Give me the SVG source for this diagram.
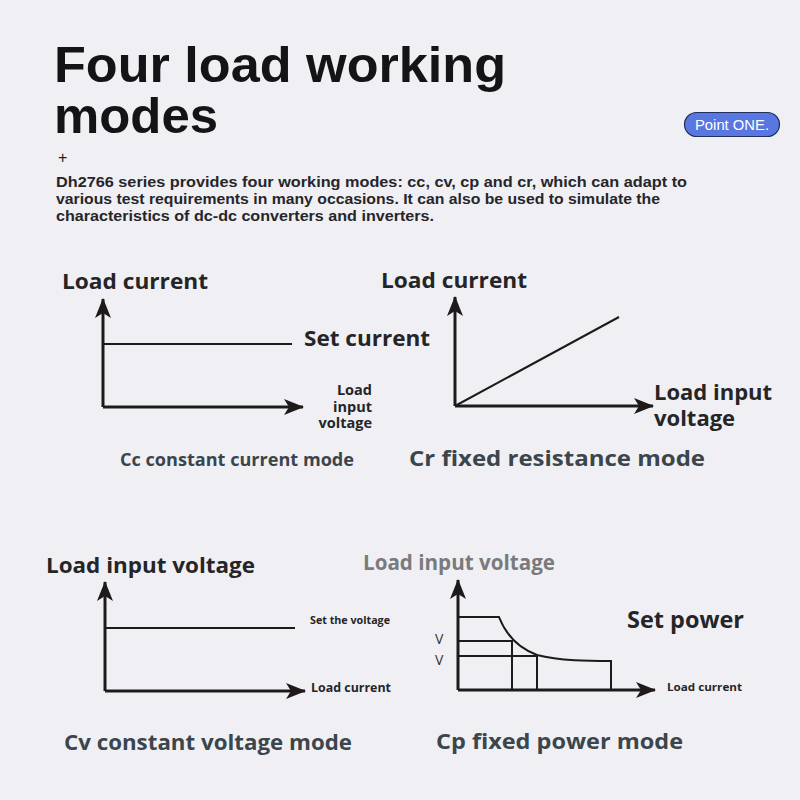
<svg xmlns="http://www.w3.org/2000/svg" width="800" height="800" viewBox="0 0 800 800">
<defs>
<style>
.ttl{font-family:"Liberation Sans",Arial,sans-serif;font-weight:bold;font-size:50px;fill:#141416}
.par{font-family:"Liberation Sans",Arial,sans-serif;font-weight:bold;font-size:15px;fill:#26262a}
.lbl{font-family:"Open Sans","Noto Sans",sans-serif;font-weight:bold;fill:#252527}
.cap{font-family:"Open Sans","Noto Sans",sans-serif;font-weight:bold;fill:#3b454c}
.ax{stroke:#1e1a1a;stroke-width:3;fill:none}
.ln{stroke:#1e1a1a;stroke-width:2;fill:none}
</style>
<marker id="ah" viewBox="0 0 20 16" refX="19" refY="8" markerWidth="20" markerHeight="16" markerUnits="userSpaceOnUse" orient="auto">
<path d="M0,0 L20,8 L0,16 L5,8 Z" fill="#1e1a1a"/>
</marker>
</defs>
<rect width="800" height="800" fill="#f0f0f4"/>

<g id="header">
<text class="ttl" x="54" y="82" textLength="452" lengthAdjust="spacingAndGlyphs">Four load working</text>
<text class="ttl" x="54" y="133" textLength="164" lengthAdjust="spacingAndGlyphs">modes</text>
<text x="58" y="163" style="font-family:'Liberation Sans',sans-serif;font-size:16px;fill:#222">+</text>
<text class="par" x="56" y="187" textLength="631" lengthAdjust="spacingAndGlyphs">Dh2766 series provides four working modes: cc, cv, cp and cr, which can adapt to</text>
<text class="par" x="56" y="204" textLength="604" lengthAdjust="spacingAndGlyphs">various test requirements in many occasions. It can also be used to simulate the</text>
<text class="par" x="56" y="221" textLength="378" lengthAdjust="spacingAndGlyphs">characteristics of dc-dc converters and inverters.</text>
</g>

<g id="badge">
<rect x="684.5" y="112.5" width="95" height="24" rx="12" fill="#5877e0" stroke="#22305c" stroke-width="1.2"/>
<text x="732" y="130" text-anchor="middle" style="font-family:'Liberation Sans',sans-serif;font-size:15px;fill:#ffffff" textLength="74" lengthAdjust="spacingAndGlyphs">Point ONE.</text>
</g>

<g id="connectors">
<!-- Cc -->
<path class="ax" d="M103,407 V299" marker-end="url(#ah)"/>
<path class="ax" d="M103,407 H303" marker-end="url(#ah)"/>
<path class="ln" d="M103,344 H292"/>
<!-- Cr -->
<path class="ax" d="M455,406 V297" marker-end="url(#ah)"/>
<path class="ax" d="M455,406 H653" marker-end="url(#ah)"/>
<path class="ln" d="M455,406 L619,317"/>
<!-- Cv -->
<path class="ax" d="M105,691 V582" marker-end="url(#ah)"/>
<path class="ax" d="M105,691 H305" marker-end="url(#ah)"/>
<path class="ln" d="M105,628 H295"/>
<!-- Cp -->
<path class="ax" d="M458,690 V580" marker-end="url(#ah)"/>
<path class="ax" d="M458,690 H655" marker-end="url(#ah)"/>
<path class="ln" d="M458,617 H499 C506,635 518,648 537,655 C560,661 590,661 611,661 V690"/>
<path class="ln" d="M458,641 H512 V690"/>
<path class="ln" d="M458,656 H537 V690"/>
</g>

<g id="cc-mode">
<text class="lbl" x="62" y="289" font-size="22" textLength="146" lengthAdjust="spacingAndGlyphs">Load current</text>
<text class="lbl" x="304" y="346" font-size="22" textLength="126" lengthAdjust="spacingAndGlyphs">Set current</text>
<text class="lbl" font-size="14.5" text-anchor="end"><tspan x="372" y="395">Load</tspan><tspan x="372" y="412">input</tspan><tspan x="372" y="428">voltage</tspan></text>
<text class="cap" x="120" y="466" font-size="17" textLength="234" lengthAdjust="spacingAndGlyphs">Cc constant current mode</text>
</g>

<g id="cr-mode">
<text class="lbl" x="381" y="288" font-size="22" textLength="146" lengthAdjust="spacingAndGlyphs">Load current</text>
<text class="lbl" font-size="22"><tspan x="654" y="400">Load input</tspan><tspan x="654" y="426">voltage</tspan></text>
<text class="cap" x="409" y="466" font-size="22" textLength="296" lengthAdjust="spacingAndGlyphs">Cr fixed resistance mode</text>
</g>

<g id="cv-mode">
<text class="lbl" x="46" y="573" font-size="22" textLength="209" lengthAdjust="spacingAndGlyphs">Load input voltage</text>
<text class="lbl" x="310" y="624" font-size="10" textLength="80" lengthAdjust="spacingAndGlyphs">Set the voltage</text>
<text class="lbl" x="311" y="692" font-size="12" textLength="80" lengthAdjust="spacingAndGlyphs">Load current</text>
<text class="cap" x="64" y="750" font-size="21" textLength="288" lengthAdjust="spacingAndGlyphs">Cv constant voltage mode</text>
</g>

<g id="cp-mode">
<text class="lbl" x="363" y="570" font-size="21" style="fill:#7a7a7c" textLength="192" lengthAdjust="spacingAndGlyphs">Load input voltage</text>
<text x="435" y="644" style="font-family:'Open Sans',sans-serif;font-size:14px;fill:#333">V</text>
<text x="435" y="665" style="font-family:'Open Sans',sans-serif;font-size:14px;fill:#333">V</text>
<text class="lbl" x="627" y="628" font-size="23" textLength="117" lengthAdjust="spacingAndGlyphs">Set power</text>
<text class="lbl" x="667" y="691" font-size="11" textLength="75" lengthAdjust="spacingAndGlyphs">Load current</text>
<text class="cap" x="436" y="749" font-size="22" textLength="247" lengthAdjust="spacingAndGlyphs">Cp fixed power mode</text>
</g>
</svg>
